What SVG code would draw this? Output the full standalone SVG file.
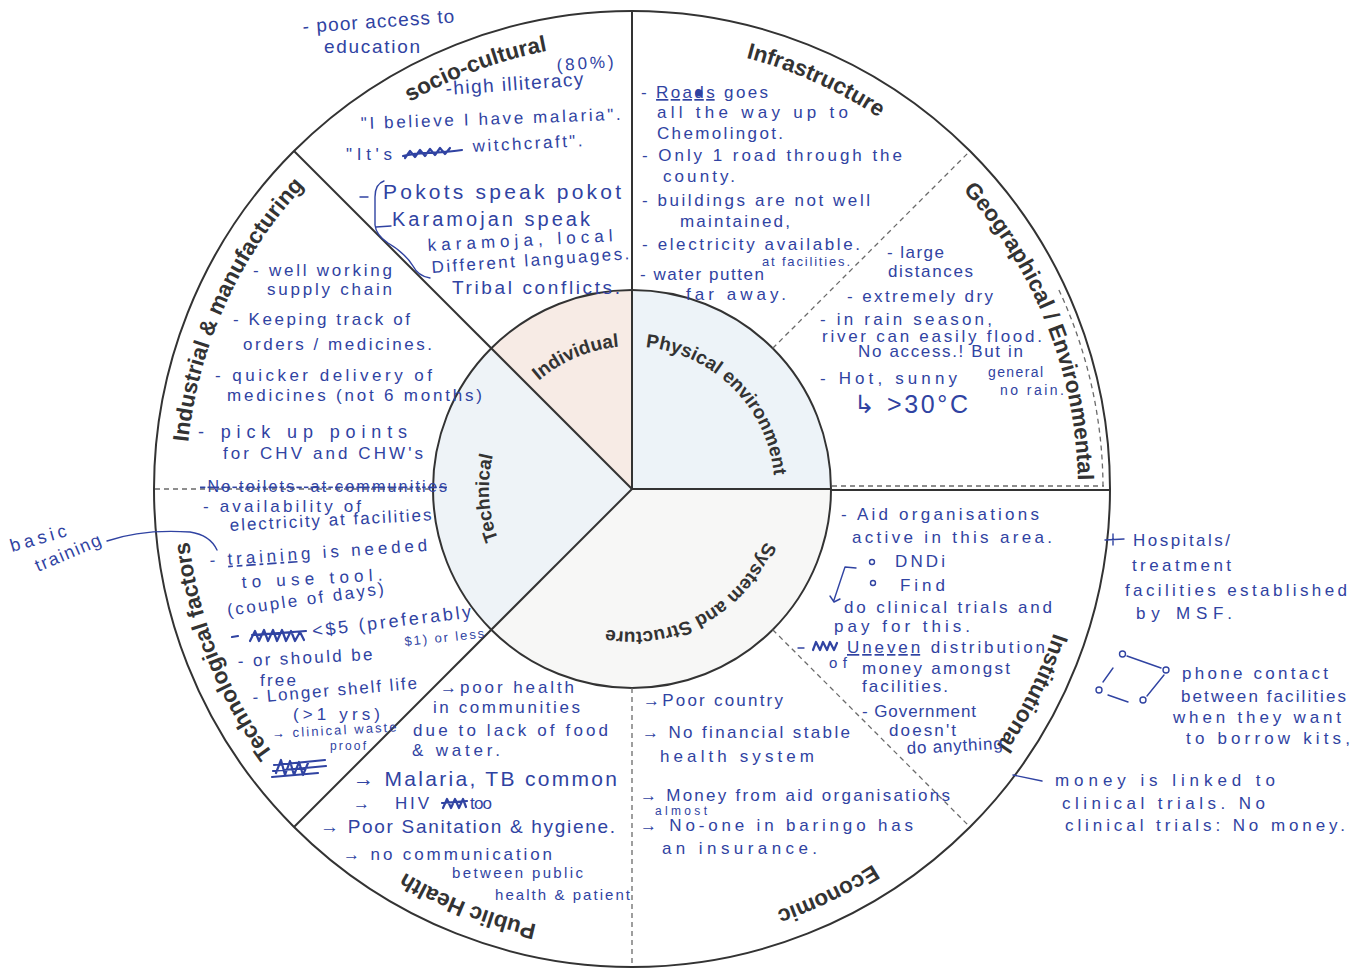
<svg xmlns="http://www.w3.org/2000/svg" width="1367" height="972" viewBox="0 0 1367 972">
<style>
.h{font-family:"Liberation Sans","DejaVu Sans",Arial,sans-serif;fill:#3043a2;font-size:17px}
.lab{font-family:"Liberation Sans","DejaVu Sans",Arial,sans-serif;font-weight:bold;fill:#333;font-size:22.5px}
.ilab{font-family:"Liberation Sans","DejaVu Sans",Arial,sans-serif;font-weight:bold;fill:#333;font-size:19px}
.ln{stroke:#333;stroke-width:2;fill:none}
.dl{stroke:#6a6a6a;stroke-width:1.3;stroke-dasharray:5 4;fill:none}
.ink{stroke:#3043a2;stroke-width:1.4;fill:none;stroke-linecap:round;stroke-linejoin:round}
.scr{stroke:#3043a2;stroke-width:2.2;fill:none;stroke-linecap:round;stroke-linejoin:round}
</style>
<defs>
<path id="a-socio" d="M202,607.5 A446,446 0 0 1 1034.9,297.7"/>
<path id="a-infra" d="M242.7,271.4 A446,446 0 0 1 1053.2,635.7"/>
<path id="a-geo" d="M504.6,61.6 A446,446 0 0 1 831.7,887.8"/>
<path id="a-inst" d="M868.3,110.8 A446,446 0 0 1 464.9,902.5"/>
<path id="a-econ" d="M1048.9,330.6 A446,446 0 0 1 248.9,717.4"/>
<path id="a-pub" d="M1031.1,688 A446,446 0 0 1 204.4,362.3"/>
<path id="a-tech" d="M759.4,916.4 A446,446 0 0 1 432.3,90.2"/>
<path id="a-ind" d="M413.1,877.6 A446,446 0 0 1 780.2,68.3"/>
<path id="i-indiv" d="M492.7,521.2 A143,143 0 0 1 751.9,411.1"/>
<path id="i-phys" d="M540.1,379.5 A143,143 0 0 1 741.5,580.9"/>
<path id="i-sys" d="M762.6,430.8 A143,143 0 0 1 513.5,569"/>
<path id="i-tech" d="M628.3,632 A143,143 0 0 1 610.9,347.6"/>
</defs>
<rect width="1367" height="972" fill="#ffffff"/>

<g id="wheel">
<circle cx="632" cy="489" r="478" fill="#ffffff" class="ln"/>
<path id="w-individual" d="M632,489 L491.3,348.3 A199,199 0 0 1 632,290 Z" fill="#f7ebe5"/>
<path id="w-physical" d="M632,489 L632,290 A199,199 0 0 1 831,489 Z" fill="#edf3f8"/>
<path id="w-system" d="M632,489 L831,489 A199,199 0 0 1 491.3,629.7 Z" fill="#f7f7f6"/>
<path id="w-technical" d="M632,489 L491.3,629.7 A199,199 0 0 1 491.3,348.3 Z" fill="#eef3f7"/>
<circle cx="632" cy="489" r="199" class="ln"/>
</g>

<g id="connectors">
<line class="ln" x1="632" y1="489" x2="632" y2="11"/>
<line class="ln" x1="632" y1="489" x2="831" y2="489"/>
<line class="ln" x1="632" y1="489" x2="294" y2="151"/>
<line class="ln" x1="632" y1="489" x2="294" y2="827"/>
<line class="ln" x1="831" y1="490" x2="1110" y2="490"/>
<line class="dl" x1="832" y1="486" x2="1104" y2="486"/>
<path class="dl" d="M1058.9,289.9 A471,471 0 0 1 1103,486"/>
<line class="dl" x1="772.7" y1="348.3" x2="970" y2="151"/>
<line class="dl" x1="772.7" y1="629.7" x2="970" y2="827"/>
<line class="dl" x1="632" y1="688" x2="632" y2="967"/>
<line class="dl" x1="155" y1="489" x2="433" y2="489"/>
</g>

<g id="inner-labels">
<g id="individual"><text class="ilab"><textPath href="#i-indiv" startOffset="50%" text-anchor="middle">Individual</textPath></text></g>
<g id="physical-environment"><text class="ilab"><textPath href="#i-phys" startOffset="50%" text-anchor="middle">Physical environment</textPath></text></g>
<g id="system-and-structure"><text class="ilab"><textPath href="#i-sys" startOffset="50%" text-anchor="middle">System and Structure</textPath></text></g>
<g id="technical"><text class="ilab"><textPath href="#i-tech" startOffset="50%" text-anchor="middle">Technical</textPath></text></g>
</g>

<g id="socio-cultural">
<text class="lab"><textPath href="#a-socio" startOffset="50%" text-anchor="middle">socio-cultural</textPath></text>
<text class="h" x="303" y="33" textLength="152" style="font-size:19px" transform="rotate(-4 303 33)">- poor access to</text>
<text class="h" x="324" y="53" textLength="96" style="font-size:19px">education</text>
<text class="h" x="557" y="71" textLength="57" transform="rotate(-4 557 71)">(80%)</text>
<text class="h" x="446" y="95" textLength="138" style="font-size:19px" transform="rotate(-4 446 95)">-high illiteracy</text>
<text class="h" x="361" y="129" textLength="260" transform="rotate(-2 361 129)">"I believe I have malaria".</text>
<text class="h" x="346" y="160" textLength="46">"It's</text>
<path class="scr" d="M403,156 C420,151 440,154 462,150 M405,158 l5,-7 l5,6 l5,-7 l5,6 l5,-7 l5,6 l5,-7 l5,6 l5,-6"/>
<text class="h" x="473" y="152" textLength="110" transform="rotate(-3 473 152)">witchcraft".</text>
<path class="ink" d="M360,197 L368,197 M384,181 Q375,184 375,197 L375,225 Q376,235 388,243 Q405,253 413,266 Q418,276 430,278 M376,227 L391,226"/>
<text class="h" x="383" y="199" textLength="238" style="font-size:21px">Pokots speak pokot</text>
<text class="h" x="392" y="226" textLength="198" style="font-size:20px">Karamojan speak</text>
<text class="h" x="428" y="251" textLength="185" transform="rotate(-3 428 251)">karamoja, local</text>
<text class="h" x="432" y="273" textLength="198" transform="rotate(-4 432 273)">Different languages.</text>
<text class="h" x="452" y="294" textLength="168" style="font-size:19px">Tribal conflicts.</text>
</g>

<g id="infrastructure">
<text class="lab"><textPath href="#a-infra" startOffset="50%" text-anchor="middle">Infrastructure</textPath></text>
<text class="h" x="641" y="98" textLength="127">- <tspan text-decoration="underline">Roads</tspan> goes</text>
<circle cx="699" cy="93" r="3.5" fill="#3043a2"/>
<text class="h" x="657" y="118" textLength="191">all the way up to</text>
<text class="h" x="657" y="139" textLength="126">Chemolingot.</text>
<text class="h" x="642" y="161" textLength="260">- Only 1 road through the</text>
<text class="h" x="663" y="182" textLength="72">county.</text>
<text class="h" x="642" y="206" textLength="228">- buildings are not well</text>
<text class="h" x="680" y="227" textLength="110">maintained,</text>
<text class="h" x="642" y="250" textLength="218">- electricity available.</text>
<text class="h" x="762" y="266" textLength="88" style="font-size:13px">at facilities.</text>
<text class="h" x="640" y="280" textLength="124">- water putten</text>
<text class="h" x="686" y="300" textLength="100">far away.</text>
</g>

<g id="geographical-environmental">
<text class="lab"><textPath href="#a-geo" startOffset="50%" text-anchor="middle">Geographical / Environmental</textPath></text>
<text class="h" x="887" y="258" textLength="57">- large</text>
<text class="h" x="888" y="277" textLength="85">distances</text>
<text class="h" x="847" y="302" textLength="146">- extremely dry</text>
<text class="h" x="820" y="325" textLength="172">- in rain season,</text>
<text class="h" x="822" y="342" textLength="220">river can easily flood.</text>
<text class="h" x="858" y="357" textLength="165">No access.! But in</text>
<text class="h" x="988" y="377" textLength="55" style="font-size:14px">general</text>
<text class="h" x="1000" y="395" textLength="64" style="font-size:14px">no rain.</text>
<text class="h" x="820" y="384" textLength="137">- Hot, sunny</text>
<text class="h" x="854" y="413" textLength="114" style="font-size:25px">↳ &gt;30°C</text>
</g>

<g id="industrial-manufacturing">
<text class="lab"><textPath href="#a-ind" startOffset="50%" text-anchor="middle">Industrial &amp; manufacturing</textPath></text>
<text class="h" x="253" y="276" textLength="139">- well working</text>
<text class="h" x="267" y="295" textLength="125">supply chain</text>
<text class="h" x="233" y="325" textLength="177">- Keeping track of</text>
<text class="h" x="243" y="350" textLength="189">orders / medicines.</text>
<text class="h" x="215" y="381" textLength="217">- quicker delivery of</text>
<text class="h" x="227" y="401" textLength="255">medicines (not 6 months)</text>
<text class="h" x="198" y="438" textLength="209" style="font-size:18px">- pick up points</text>
<text class="h" x="223" y="459" textLength="200">for CHV and CHW's</text>
</g>

<g id="technological-factors">
<text class="lab"><textPath href="#a-tech" startOffset="50%" text-anchor="middle">Technological factors</textPath></text>
<text class="h" x="200" y="492" textLength="247" style="font-size:16px" text-decoration="line-through">-No toilets- at communities</text>
<text class="h" x="203" y="512" textLength="158">- availability of</text>
<text class="h" x="230" y="531" textLength="202" transform="rotate(-3 230 531)">electricity at facilities</text>
<text class="h" x="210" y="566" textLength="218" transform="rotate(-4 210 566)">- <tspan text-decoration="underline">training</tspan> is needed</text>
<text class="h" x="242" y="588" textLength="141" transform="rotate(-3 242 588)">to use tool.</text>
<text class="h" x="228" y="616" textLength="158" transform="rotate(-8 228 616)">(couple of days)</text>
<path class="scr" d="M232,637 L238,636 M250,641 l5,-10 l4,10 l5,-11 l4,11 l5,-11 l4,11 l5,-11 l4,11 l5,-10 l4,10 l5,-9 l4,8 M252,635 L306,631"/>
<text class="h" x="313" y="637" textLength="160" style="font-size:18px" transform="rotate(-7 313 637)">&lt;$5 (preferably</text>
<text class="h" x="405" y="646" textLength="80" style="font-size:13px" transform="rotate(-6 405 646)">$1) or less</text>
<text class="h" x="238" y="667" textLength="135" transform="rotate(-3 238 667)">- or should be</text>
<text class="h" x="260" y="686" textLength="36">free</text>
<text class="h" x="253" y="703" textLength="165" transform="rotate(-5 253 703)">- Longer shelf life</text>
<text class="h" x="293" y="720" textLength="87">(&gt;1 yrs)</text>
<text class="h" x="272" y="738" textLength="125" style="font-size:13px" transform="rotate(-3 272 738)">→ clinical waste</text>
<text class="h" x="330" y="750" textLength="36" style="font-size:12px">proof</text>
<path class="scr" d="M274,765 L325,760 M273,771 L326,766 M272,777 L318,773 M276,773 l5,-13 l4,15 l5,-14 l4,14 l5,-13 l4,13 l5,-12"/>
<text class="h" x="12" y="552" textLength="58" style="font-size:18px" transform="rotate(-16 12 552)">basic</text>
<text class="h" x="38" y="572" textLength="70" style="font-size:18px" transform="rotate(-23 38 572)">training</text>
<path class="ink" d="M107,541 C130,533 160,530 190,532 Q210,535 217,550"/>
</g>

<g id="public-health">
<text class="lab"><textPath href="#a-pub" startOffset="50%" text-anchor="middle">Public Health</textPath></text>
<text class="h" x="440" y="693" textLength="134">→poor health</text>
<text class="h" x="433" y="713" textLength="147">in communities</text>
<text class="h" x="413" y="736" textLength="195">due to lack of food</text>
<text class="h" x="412" y="756" textLength="88">&amp; water.</text>
<text class="h" x="353" y="786" textLength="264" style="font-size:21px">→ Malaria, TB common</text>
<text class="h" x="353" y="809">→ <tspan x="395" textLength="34">HIV</tspan></text>
<path class="scr" d="M443,808 l4,-9 l4,9 l4,-9 l4,9 l4,-9 l3,8 M442,803 L467,801"/>
<text class="h" x="470" y="809" textLength="22">too</text>
<text class="h" x="320" y="833" textLength="295" style="font-size:19px">→ Poor Sanitation &amp; hygiene.</text>
<text class="h" x="343" y="860" textLength="209">→ no communication</text>
<text class="h" x="452" y="878" textLength="131" style="font-size:15px">between public</text>
<text class="h" x="495" y="900" textLength="135" style="font-size:15px">health &amp; patient</text>
</g>

<g id="economic">
<text class="lab"><textPath href="#a-econ" startOffset="50%" text-anchor="middle">Economic</textPath></text>
<text class="h" x="643" y="706" textLength="140">→Poor country</text>
<text class="h" x="642" y="738" textLength="208">→ No financial stable</text>
<text class="h" x="660" y="762" textLength="154">health system</text>
<text class="h" x="640" y="801" textLength="310">→ Money from aid organisations</text>
<text class="h" x="655" y="815" textLength="52" style="font-size:12px">almost</text>
<text class="h" x="640" y="831" textLength="273">→ No-one in baringo has</text>
<text class="h" x="662" y="854" textLength="155">an insurance.</text>
</g>

<g id="institutional">
<text class="lab"><textPath href="#a-inst" startOffset="50%" text-anchor="middle">Institutional</textPath></text>
<text class="h" x="841" y="520" textLength="198">- Aid organisations</text>
<text class="h" x="852" y="543" textLength="200">active in this area.</text>
<circle class="ink" cx="872" cy="562" r="2.5"/>
<text class="h" x="895" y="567" textLength="50">DNDi</text>
<circle class="ink" cx="873" cy="583" r="2.5"/>
<text class="h" x="900" y="591" textLength="45">Find</text>
<path class="ink" d="M856,568 L845,567 L834,600 M830,596 L834,602 L840,599"/>
<text class="h" x="844" y="613" textLength="208">do clinical trials and</text>
<text class="h" x="834" y="632" textLength="136">pay for this.</text>
<path class="ink" d="M798,648 L804,648"/>
<path class="scr" d="M813,650 l3,-8 l4,8 l3,-8 l4,8 l3,-8 l4,8 l3,-7"/>
<text class="h" x="847" y="653" textLength="198"><tspan text-decoration="underline">Uneven</tspan> distribution</text>
<text class="h" x="829" y="668" textLength="18" style="font-size:15px">of</text>
<text class="h" x="862" y="674" textLength="148">money amongst</text>
<text class="h" x="862" y="692" textLength="86">facilities.</text>
<text class="h" x="862" y="717" textLength="114">- Government</text>
<text class="h" x="889" y="736" textLength="67">doesn't</text>
<text class="h" x="907" y="754" textLength="96" transform="rotate(-3 907 754)">do anything</text>
</g>

<g id="notes-outside-right">
<path class="ink" d="M1105,540 L1124,539 M1113,534 L1113,545"/>
<text class="h" x="1133" y="546" textLength="97">Hospitals/</text>
<text class="h" x="1132" y="571" textLength="99">treatment</text>
<text class="h" x="1125" y="596" textLength="222">facilities established</text>
<text class="h" x="1136" y="619" textLength="96">by MSF.</text>
<g id="phone-diagram" class="ink">
<circle cx="1122.5" cy="654" r="3"/>
<circle cx="1166" cy="670" r="3"/>
<circle cx="1099" cy="690" r="3"/>
<circle cx="1143" cy="700" r="3"/>
<path d="M1127,656 L1161,668 M1103,682 L1113,668 M1108,695 L1128,702 M1164,675 L1147,696"/>
</g>
<text class="h" x="1182" y="679" textLength="146">phone contact</text>
<text class="h" x="1181" y="702" textLength="165">between facilities</text>
<text class="h" x="1173" y="723" textLength="168">when they want</text>
<text class="h" x="1186" y="744" textLength="164">to borrow kits,</text>
<path class="ink" d="M1013,775 L1042,781"/>
<text class="h" x="1055" y="786" textLength="220">money is linked to</text>
<text class="h" x="1062" y="809" textLength="203">clinical trials. No</text>
<text class="h" x="1065" y="831" textLength="280">clinical trials: No money.</text>
</g>
</svg>
